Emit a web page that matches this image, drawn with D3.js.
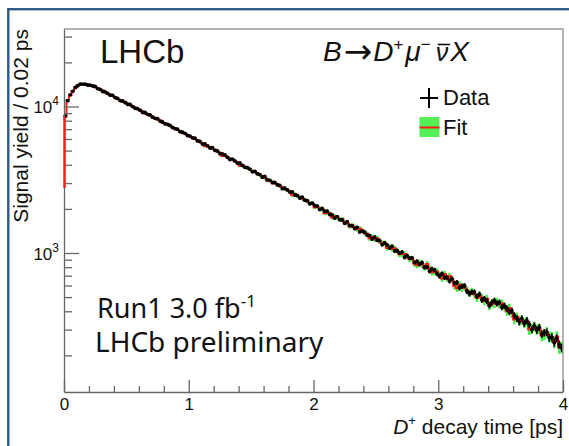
<!DOCTYPE html>
<html>
<head>
<meta charset="utf-8">
<script src="https://cdn.jsdelivr.net/npm/d3@7"></script>
<style>
  html, body { margin: 0; padding: 0; background: #fff; }
  svg { display: block; }
</style>
</head>
<body>
<svg id="chart" width="569" height="446"></svg>
<script>
// D+ decay-time distribution, 0.02 ps bins from 0 to 4 ps
const binWidth = 0.02;
const timeRange = [0, 4];
const yieldRange = [112.5, 33800];

// Signal yield per bin (data)
const dataYield = [
  8610, 10960, 12010, 12690, 13480, 13850, 14230, 14190, 14210, 14020, 13990, 13800,
  13700, 13248, 13085, 12655, 12600, 12297, 11940, 11911, 11508, 11355, 10982, 10912,
  10650, 10361, 10315, 9987, 9727, 9665, 9441, 9112, 9100, 8845, 8753, 8458, 8303, 8258,
  7947, 7849, 7598, 7558, 7427, 7190, 7059, 7006, 6729, 6673, 6558, 6342, 6283, 6113,
  6070, 5822, 5766, 5536, 5548, 5392, 5207, 5234, 5021, 4968, 4764, 4747, 4668, 4495,
  4345, 4378, 4250, 4109, 4114, 3962, 3845, 3831, 3738, 3581, 3604, 3474, 3429, 3289,
  3327, 3172, 3132, 3022, 3038, 2914, 2892, 2748, 2774, 2696, 2606, 2615, 2487, 2468,
  2372, 2404, 2292, 2274, 2166, 2188, 2110, 2090, 1979, 2013, 1930,
  1928, 1831, 1823, 1732, 1773, 1690, 1680, 1595, 1638, 1545, 1531, 1468, 1495, 1392,
  1410, 1390, 1323, 1314, 1246, 1285, 1222, 1215, 1140, 1173, 1134, 1082, 1111, 1033,
  1036, 1001, 1015, 935, 958, 923, 925, 863, 877, 837, 859, 798, 801, 752, 777, 766,
  722, 696, 722, 680, 679,
  644, 665, 623, 629, 578, 594, 598, 549, 527, 541, 541, 507, 522, 478, 488, 469, 440,
  460, 474, 453, 460, 427, 436, 419, 396, 404, 375, 357, 339, 356, 331, 346, 325, 300,
  318, 298, 311, 280, 286, 288, 264, 266, 245, 262, 238, 225
];

// Fit result per bin and its uncertainty
const fitYield = [
  8550, 11020, 11950, 12760, 13400, 13920, 14170, 14240, 14150, 14080, 13930, 13860,
  13549, 13342, 13046, 12834, 12500, 12211, 12060, 11781, 11566, 11265, 11082, 10793,
  10671, 10434, 10193, 10057, 9805, 9578, 9432, 9232, 8965, 8872, 8675, 8526, 8311, 8152,
  8027, 7755, 7690, 7520, 7346, 7226, 7108, 6916, 6790, 6626, 6532, 6393, 6220, 6149,
  5998, 5887, 5720, 5631, 5362, 5403, 5265, 5137, 5066, 4923, 4832, 4591, 4636, 4522,
  4403, 4356, 4233, 4154, 3935, 3986, 3884, 3786, 3726, 3635, 3579, 3474, 3409, 3346,
  3249, 3111, 3132, 3059, 2984, 2941, 2860, 2807, 2728, 2693, 2627, 2489, 2528, 2456,
  2410, 2348, 2313, 2256, 2197, 2173, 2053, 2073, 2018, 1989, 1870,
  1875, 1868, 1750, 1784, 1758, 1686, 1705, 1620, 1598, 1515, 1548, 1496, 1452, 1472,
  1430, 1364, 1352, 1261, 1288, 1240, 1262, 1203, 1168, 1169, 1082, 1109, 1068, 1077,
  1036, 979, 985, 983, 949, 910, 915, 848, 826, 859, 835, 796, 841, 789, 740, 743,
  749, 704, 671, 718, 673,
  696, 662, 598, 575, 607, 576, 589, 557, 534, 546, 523, 494, 514, 495, 470, 487, 436,
  456, 450, 465, 447, 452, 432, 401, 421, 389, 352, 365, 346, 348, 333, 341, 300, 305,
  315, 301, 303, 273, 277, 288, 268, 266, 246, 269, 226, 228
];
const fitError = [
  129, 147, 153, 158, 162, 165, 167, 167, 167, 166, 165, 165,
  163, 162, 160, 159, 157, 155, 154, 152, 151, 149, 147, 145, 145, 143, 141, 140, 139,
  137, 136, 135, 133, 132, 130, 129, 128, 126, 125, 123, 123, 121, 120, 119, 118, 116,
  115, 114, 113, 112, 110, 110,
  108, 107, 106, 105, 103, 103, 102, 100, 99, 98, 97, 95, 95, 94, 93, 92, 91, 90, 88,
  88, 87, 86, 85, 84, 84, 83, 82, 81, 80, 78, 78, 77, 76, 76, 75, 74, 73, 73, 72, 70,
  70, 69, 69, 68, 67, 66, 66, 65, 63, 64, 63, 62, 61,
  61, 60, 59, 59, 59, 57, 58, 56, 56, 54, 55, 54, 53, 54, 53, 52, 51, 50, 50, 49, 50,
  49, 48, 48, 46, 47, 46, 46, 45, 44, 44, 44, 43, 42, 42, 41, 40, 41, 40, 40, 41, 39,
  38, 38, 38, 37, 36, 38, 36,
  37, 36, 34, 34, 34, 34, 34, 33, 32, 33, 32, 31, 32, 31, 30, 31, 29, 30, 30, 30, 30,
  30, 29, 28, 29, 28, 26, 27, 26, 26, 26, 26, 24, 24, 25, 24, 24, 23, 23, 24, 23, 23,
  22, 23, 21, 21
];
// Fit value at the lower edge of the time range
const fitAtZero = 2790;

const xMajorTicks = [0, 1, 2, 3, 4];
const yMajorTicks = [1000, 10000];
const yMajorExponents = ["3", "4"];

const SANS = "'Liberation Sans', Arial, Helvetica, sans-serif";
const svg = d3.select("#chart");

const frame = { left: 64, right: 563, top: 29, bottom: 392 };
const x = d3.scaleLinear().domain(timeRange).range([frame.left, frame.right]);
const y = d3.scaleLog().domain(yieldRange).range([frame.bottom, frame.top]);

// Outer slide border
svg.append("rect")
  .attr("x", 8.3).attr("y", 9.2).attr("width", 620).attr("height", 520)
  .attr("fill", "none").attr("stroke", "#2e5a8a").attr("stroke-width", 2.4);

// Clip for the plotted histograms
svg.append("clipPath").attr("id", "plotClip")
  .append("rect")
  .attr("x", frame.left - 2).attr("y", frame.top)
  .attr("width", frame.right - frame.left + 2).attr("height", frame.bottom - frame.top);

const plot = svg.append("g").attr("clip-path", "url(#plotClip)");

const bins = dataYield.map((n, i) => ({
  t0: i * binWidth,
  t1: (i + 1) * binWidth,
  tc: (i + 0.5) * binWidth,
  n: n,
  f: fitYield[i],
  fe: fitError[i]
}));

// Fit uncertainty band
plot.append("g").selectAll("rect")
  .data(bins)
  .join("rect")
  .attr("x", d => x(d.t0))
  .attr("width", d => x(d.t1) - x(d.t0))
  .attr("y", d => y(d.f + d.fe))
  .attr("height", d => y(d.f - d.fe) - y(d.f + d.fe))
  .attr("fill", "#46f046");

// Fit central value as a step line
const fitPath = d3.path();
fitPath.moveTo(x(0) + 0.5, y(fitAtZero));
bins.forEach((d, i) => {
  fitPath.lineTo(i === 0 ? x(d.t0) + 0.5 : x(d.t0), y(d.f));
  fitPath.lineTo(x(d.t1), y(d.f));
});
plot.append("path")
  .attr("d", fitPath.toString())
  .attr("fill", "none")
  .attr("stroke", "#ff1a1a")
  .attr("stroke-width", 2);

// Data points with Poisson error bars
const dataG = plot.append("g").attr("stroke", "#000").attr("stroke-width", 1.7);
dataG.selectAll("line.ev")
  .data(bins)
  .join("line")
  .attr("x1", d => x(d.tc)).attr("x2", d => x(d.tc))
  .attr("y1", d => y(d.n + Math.sqrt(d.n)))
  .attr("y2", d => y(d.n - Math.sqrt(d.n)));
dataG.selectAll("line.eh")
  .data(bins)
  .join("line")
  .attr("x1", d => x(d.t0)).attr("x2", d => x(d.t1))
  .attr("y1", d => y(d.n)).attr("y2", d => y(d.n));
plot.append("g").selectAll("circle")
  .data(bins)
  .join("circle")
  .attr("cx", d => x(d.tc))
  .attr("cy", d => y(d.n))
  .attr("r", 1.9)
  .attr("fill", "#000");

// Frame: top and right edges
svg.append("path")
  .attr("d", `M${frame.left},${frame.top}H${frame.right}V${frame.bottom}`)
  .attr("fill", "none").attr("stroke", "#9c9c9c").attr("stroke-width", 1.5);

// X axis
const xAxisG = svg.append("g")
  .attr("transform", `translate(0,${frame.bottom})`)
  .call(d3.axisBottom(x).tickValues(xMajorTicks).tickSize(-12).tickSizeOuter(0)
        .tickPadding(6).tickFormat(d3.format("d")))
  .attr("color", "#666")
  .attr("font-family", SANS).attr("font-size", 17);
xAxisG.selectAll("text").attr("fill", "#111");
xAxisG.selectAll("line, path").attr("stroke-width", 1.3);

const xMinor = d3.range(1, 20).filter(k => k % 5 !== 0).map(k => k / 5);
svg.append("g")
  .attr("transform", `translate(0,${frame.bottom})`)
  .call(d3.axisBottom(x).tickValues(xMinor).tickSize(-6).tickSizeOuter(0).tickFormat(""))
  .attr("color", "#666")
  .call(g => g.select(".domain").remove())
  .selectAll("line").attr("stroke-width", 1.3);

// Y axis (log)
const yAxisG = svg.append("g")
  .attr("transform", `translate(${frame.left},0)`)
  .call(d3.axisLeft(y).tickValues(yMajorTicks).tickSize(-15).tickSizeOuter(0).tickFormat(""))
  .attr("color", "#666");
yAxisG.selectAll("line, path").attr("stroke-width", 1.3);

const yMinor = [];
[100, 1000, 10000].forEach(dec => {
  d3.range(2, 10).forEach(m => {
    const v = m * dec;
    if (v > yieldRange[0] && v < yieldRange[1]) yMinor.push(v);
  });
});
svg.append("g")
  .attr("transform", `translate(${frame.left},0)`)
  .call(d3.axisLeft(y).tickValues(yMinor).tickSize(-8).tickSizeOuter(0).tickFormat(""))
  .attr("color", "#666")
  .call(g => g.select(".domain").remove())
  .selectAll("line").attr("stroke-width", 1.3);

// Rising edge of the fit at t = 0, drawn over the axis line
svg.append("line")
  .attr("x1", x(0) + 0.5).attr("x2", x(0) + 0.5)
  .attr("y1", y(fitAtZero)).attr("y2", y(fitYield[0]))
  .attr("stroke", "#ff1a1a").attr("stroke-width", 2);

// Power-of-ten labels
yMajorTicks.forEach((v, i) => {
  const t = svg.append("text")
    .attr("x", frame.left - 5)
    .attr("y", y(v) + 7)
    .attr("text-anchor", "end")
    .attr("font-family", SANS)
    .attr("font-size", 17)
    .attr("fill", "#111");
  t.append("tspan").text("10");
  t.append("tspan").attr("dy", -8).attr("font-size", 12).text(yMajorExponents[i]);
});

// Axis titles
svg.append("text")
  .attr("transform", `translate(27.5,${frame.top}) rotate(-90)`)
  .attr("text-anchor", "end")
  .attr("font-family", SANS).attr("font-size", 21)
  .attr("fill", "#111")
  .text("Signal yield / 0.02 ps");

const xTitle = svg.append("text")
  .attr("x", frame.right).attr("y", 434)
  .attr("text-anchor", "end")
  .attr("font-family", SANS).attr("font-size", 21)
  .attr("fill", "#111");
xTitle.append("tspan").attr("font-style", "italic").text("D");
xTitle.append("tspan").attr("dy", -9).attr("font-size", 13).text("+");
xTitle.append("tspan").attr("dy", 9).text(" decay time [ps]");

// Experiment label
svg.append("text")
  .attr("x", 100).attr("y", 63)
  .attr("font-family", SANS).attr("font-size", 33)
  .attr("fill", "#111")
  .text("LHCb");

// Decay channel, laid out piece by piece
const channel = [
  { s: "B", italic: true, size: 28 },
  { s: "\u2192", size: 34, font: "'DejaVu Sans', sans-serif", dy: 2, gap: 2 },
  { s: "D", italic: true, size: 28, gap: 1 },
  { s: "+", size: 17, dy: -11 },
  { s: "\u03bc", italic: true, size: 28, gap: 2 },
  { s: "\u2212", size: 17, dy: -11 },
  { s: "\u03bd", italic: true, size: 25, gap: 5, bar: true },
  { s: "X", italic: true, size: 28, gap: 2 }
];
const chanG = svg.append("g").attr("font-family", SANS).attr("fill", "#111");
let cx = 323;
const chanBase = 61;
channel.forEach(p => {
  cx += p.gap || 0;
  const t = chanG.append("text")
    .attr("x", cx).attr("y", chanBase + (p.dy || 0))
    .attr("font-size", p.size)
    .attr("font-style", p.italic ? "italic" : "normal")
    .text(p.s);
  if (p.font) t.attr("font-family", p.font);
  const w = t.node().getComputedTextLength();
  if (p.bar) {
    chanG.append("line")
      .attr("x1", cx + 2).attr("x2", cx + w + 2)
      .attr("y1", 44.5).attr("y2", 44.5)
      .attr("stroke", "#111").attr("stroke-width", 1.6);
  }
  cx += w;
});

// Legend
const leg = svg.append("g");
leg.append("line").attr("x1", 420).attr("x2", 438).attr("y1", 98).attr("y2", 98)
  .attr("stroke", "#000").attr("stroke-width", 2);
leg.append("line").attr("x1", 429).attr("x2", 429).attr("y1", 88).attr("y2", 108)
  .attr("stroke", "#000").attr("stroke-width", 2);
leg.append("text").attr("x", 443).attr("y", 104.5)
  .attr("font-family", SANS).attr("font-size", 22).attr("fill", "#111").text("Data");
leg.append("rect").attr("x", 419.5).attr("y", 117).attr("width", 20).attr("height", 20)
  .attr("fill", "#55f055");
leg.append("line").attr("x1", 419.5).attr("x2", 439.5).attr("y1", 127.5).attr("y2", 127.5)
  .attr("stroke", "#ff1a1a").attr("stroke-width", 2);
leg.append("text").attr("x", 443).attr("y", 134.5)
  .attr("font-family", SANS).attr("font-size", 22).attr("fill", "#111").text("Fit");

// Luminosity and status labels
const NOTE = "'Noto Sans', 'Open Sans', sans-serif";
const run = svg.append("text")
  .attr("x", 97).attr("y", 318)
  .attr("font-family", NOTE).attr("font-size", 27).attr("fill", "#111");
run.append("tspan").text("Run1 3.0 fb");
run.append("tspan").attr("dy", -11).attr("font-size", 17).text("-1");
svg.append("text")
  .attr("x", 95).attr("y", 352)
  .attr("font-family", NOTE).attr("font-size", 28).attr("fill", "#111")
  .text("LHCb preliminary");
</script>
</body>
</html>
